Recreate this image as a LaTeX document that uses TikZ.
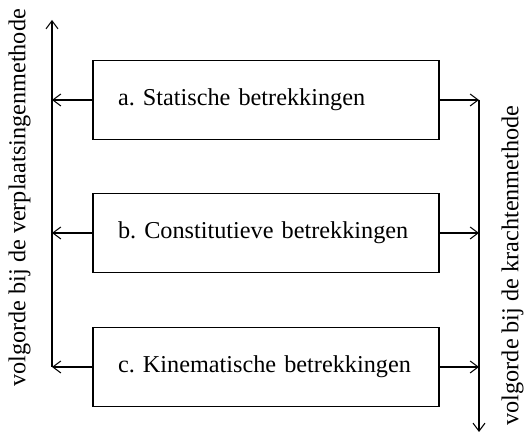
\documentclass[tikz,border=0pt]{standalone}
\usepackage{fontspec}
\setmainfont{Liberation Serif}
\usetikzlibrary{positioning, calc, arrows.meta}
\frenchspacing

\begin{document}
\begin{tikzpicture}[font=\fontsize{13.8}{16}\selectfont, line width=0.6pt,
    >={Straight Barb[length=1.6mm, width=2.4mm]},
    blok/.style={draw, text width=5.92cm, align=left, inner xsep=0.5cm,
      minimum height=1.58cm, inner ysep=0pt}]
    \useasboundingbox (0,0) rectangle (10.48,8.7);

    \node[blok] (stat) at (5.32,6.7) {a. Statische betrekkingen};
    \node[blok] (const) at (5.32,4.04) {b. Constitutieve betrekkingen};
    \node[blok] (kin) at (5.32,1.36) {c. Kinematische betrekkingen};

    \coordinate (Ltop) at (1.04,8.3);
    \coordinate (Rbot) at (9.58,0.06);
    \coordinate (La) at (Ltop |- stat.west);
    \coordinate (Lb) at (Ltop |- const.west);
    \coordinate (Lc) at (Ltop |- kin.west);
    \coordinate (Ra) at (Rbot |- stat.east);
    \coordinate (Rb) at (Rbot |- const.east);
    \coordinate (Rc) at (Rbot |- kin.east);

    \draw [->] (Lc) -- (Ltop);
    \draw [->] (Ra) -- (Rbot);

    \draw [->] (stat.west) -- (La);
    \draw [->] (const.west) -- (Lb);
    \draw [->] (kin.west) -- (Lc);
    \draw [->] (stat.east) -- (Ra);
    \draw [->] (const.east) -- (Rb);
    \draw [->] (kin.east) -- (Rc);

    \node[rotate=90] (verpl) at (0.39,4.74) {volgorde bij de verplaatsingenmethode};
    \node[rotate=90] (kracht) at (10.25,3.39) {volgorde bij de krachtenmethode};
  \end{tikzpicture}
\end{document}
